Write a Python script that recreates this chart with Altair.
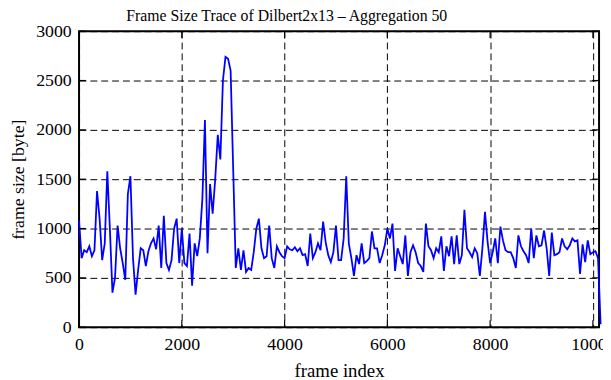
import altair as alt
import pandas as pd

# Aggregated frame sizes (bytes), one value per 50 frames
frame_size = [
    1080, 700, 780, 760, 820, 720, 780, 1380, 1100, 680,
    850, 1580, 1000, 350, 500, 1030, 800, 650, 480, 1350,
    1530, 700, 330, 580, 800, 780, 620, 770, 850, 900,
    790, 1030, 600, 1130, 650, 580, 680, 1000, 1100, 650,
    1000, 650, 620, 950, 420, 850, 720, 900, 1300, 2100,
    750, 1450, 1150, 1500, 1950, 1700, 2500, 2740, 2720, 2600,
    1600, 600, 800, 580, 780, 560, 600, 580, 760, 1000,
    1100, 800, 700, 720, 1030, 700, 600, 820, 760, 720,
    700, 820, 790, 780, 810, 770, 800, 730, 740, 620,
    950, 700, 760, 850, 780, 1070, 860, 730, 660, 760,
    1030, 680, 680, 900, 1530, 850, 700, 520, 730, 640,
    850, 650, 670, 700, 970, 800, 800, 650, 730, 830,
    1000, 900, 1050, 570, 800, 720, 640, 930, 520, 760,
    830, 760, 650, 620, 560, 1050, 820, 780, 700, 800,
    760, 920, 570, 820, 720, 920, 640, 930, 640, 730,
    1190, 800, 760, 710, 800, 750, 520, 800, 1170, 870,
    650, 760, 900, 650, 1020, 880, 780, 760, 760, 700,
    600, 930, 820, 770, 730, 650, 1000, 700, 930, 820,
    830, 980, 800, 520, 960, 730, 740, 760, 900, 820,
    790, 830, 900, 870, 880, 540, 840, 660, 880, 740,
    760, 770, 700, 30,
]
aggregation = 50
x_ticks = [0, 2000, 4000, 6000, 8000, 10000]
y_ticks = [0, 500, 1000, 1500, 2000, 2500, 3000]
x_domain = [0, 10120]
y_domain = [0, 3000]

df = pd.DataFrame({
    "frame": [i * aggregation for i in range(len(frame_size))],
    "size": frame_size,
})
xt = pd.DataFrame({"frame": x_ticks})
yt = pd.DataFrame({"size": y_ticks})

W, H = 527, 300
FONT = "Liberation Serif"
TICK = 7

xscale = alt.Scale(domain=x_domain, nice=False, zero=False)
yscale = alt.Scale(domain=y_domain, nice=False, zero=False)

x_axis = alt.Axis(
    values=x_ticks, title="frame index", format="d",
    grid=True, gridColor="black", gridDash=[7, 4], gridWidth=1, gridOpacity=1,
    domain=False, ticks=False, labelPadding=9,
    labelFont=FONT, labelFontSize=18, labelColor="black",
    labelFlush=False, labelOverlap=False,
    titleFont=FONT, titleFontSize=19, titleFontWeight="normal", titleColor="black",
    titleBaseline="alphabetic", titleY=50,
)
y_axis = alt.Axis(
    values=y_ticks, title="frame size [byte]", format="d",
    grid=True, gridColor="black", gridDash=[7, 4], gridWidth=1, gridOpacity=1,
    domain=False, ticks=False, labelPadding=8,
    labelFont=FONT, labelFontSize=18, labelColor="black",
    labelFlush=False, labelOverlap=False,
    titleFont=FONT, titleFontSize=18, titleFontWeight="normal", titleColor="black",
    titleAngle=270, titleBaseline="alphabetic", titleAlign="center",
    titleX=-56, titleY=H / 2,
)

X = alt.X("frame:Q", scale=xscale, axis=x_axis)
Y = alt.Y("size:Q", scale=yscale, axis=y_axis)

line = alt.Chart(df).mark_line(color="#0000ff", strokeWidth=1.8, clip=False).encode(
    x=X, y=Y,
)

xt_bottom = alt.Chart(xt).mark_rule(color="black", strokeWidth=1.2).encode(
    x=X, y=alt.value(H), y2=alt.value(H - TICK),
)
xt_top = alt.Chart(xt).mark_rule(color="black", strokeWidth=1.2).encode(
    x=X, y=alt.value(0), y2=alt.value(TICK),
)
yt_left = alt.Chart(yt).mark_rule(color="black", strokeWidth=1.2).encode(
    y=Y, x=alt.value(0), x2=alt.value(TICK),
)
yt_right = alt.Chart(yt).mark_rule(color="black", strokeWidth=1.2).encode(
    y=Y, x=alt.value(W), x2=alt.value(W - TICK),
)

chart = alt.layer(line, xt_bottom, xt_top, yt_left, yt_right).properties(
    width=W, height=H,
    title=alt.TitleParams(
        "Frame Size Trace of Dilbert2x13 \u2013 Aggregation 50",
        font=FONT, fontSize=16, fontWeight="normal", color="black",
        anchor="middle", dx=-53, dy=6, offset=4,
    ),
    autosize=alt.AutoSizeParams(type="none"),
    padding={"left": 72, "top": 21, "right": 4, "bottom": 51},
).configure_view(stroke="black", strokeWidth=2)

chart.save("out.html", embed_options={"renderer": "svg", "actions": False})
